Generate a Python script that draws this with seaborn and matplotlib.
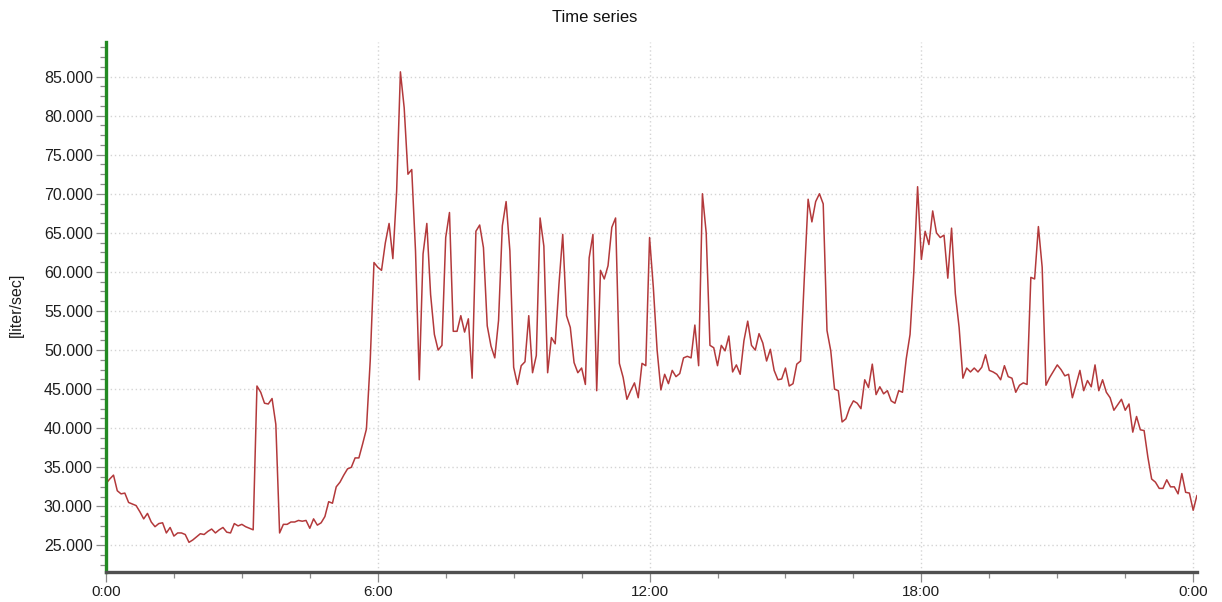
import numpy as np
import pandas as pd
import matplotlib
matplotlib.use("Agg")
import matplotlib.pyplot as plt
from matplotlib.ticker import MultipleLocator, FixedLocator, FuncFormatter
import seaborn as sns

# ---- data (5-minute samples starting 0:00) ----
sample_minutes = 5
flow = [
    32.9, 33.5, 34.0, 32.0, 31.6, 31.7, 30.5, 30.3, 30.1, 29.3,
    28.4, 29.1, 28.0, 27.4, 27.8, 27.9, 26.6, 27.3, 26.2, 26.6,
    26.6, 26.4, 25.4, 25.7, 26.1, 26.5, 26.4, 26.8, 27.1, 26.6,
    27.0, 27.3, 26.7, 26.6, 27.8, 27.5, 27.7, 27.4, 27.2, 27.0,
    45.4, 44.6, 43.2, 43.1, 43.8, 40.5, 26.6, 27.7, 27.7, 28.0,
    28.0, 28.2, 28.1, 28.2, 27.2, 28.4, 27.6, 27.9, 28.7, 30.6,
    30.4, 32.5, 33.1, 34.0, 34.8, 35.0, 36.2, 36.2, 38.0, 39.9,
    48.6, 61.2, 60.6, 60.2, 63.7, 66.2, 61.7, 70.3, 85.6, 81.0,
    72.5, 73.1, 62.7, 46.2, 62.3, 66.2, 57.1, 52.0, 50.0, 50.6,
    64.4, 67.6, 52.4, 52.4, 54.4, 52.3, 54.0, 46.4, 65.2, 66.0,
    63.1, 53.1, 50.5, 49.0, 53.8, 65.9, 69.0, 62.7, 47.8, 45.6,
    48.0, 48.5, 54.4, 47.1, 49.3, 66.9, 63.3, 47.1, 51.6, 50.8,
    58.4, 64.8, 54.4, 52.9, 48.4, 47.1, 47.7, 45.6, 61.8, 64.8,
    44.8, 60.2, 59.1, 60.8, 65.7, 66.9, 48.3, 46.5, 43.7, 44.8,
    45.8, 43.9, 48.3, 48.0, 64.4, 58.0, 50.0, 44.9, 46.9, 45.7,
    47.4, 46.6, 47.0, 49.0, 49.2, 49.0, 53.2, 48.0, 70.0, 65.0,
    50.6, 50.3, 48.0, 50.6, 49.9, 51.8, 47.2, 48.1, 46.9, 51.2,
    53.7, 50.6, 50.0, 52.1, 50.9, 48.6, 50.1, 47.4, 46.2, 46.3,
    47.7, 45.4, 45.7, 48.2, 48.6, 59.3, 69.3, 66.4, 69.0, 70.0,
    68.7, 52.5, 49.9, 45.0, 44.8, 40.8, 41.2, 42.6, 43.5, 43.2,
    42.5, 46.2, 45.2, 48.2, 44.3, 45.3, 44.4, 44.8, 43.5, 43.2,
    44.8, 44.6, 48.9, 52.0, 60.0, 70.9, 61.6, 65.2, 63.5, 67.8,
    65.0, 64.4, 64.7, 59.2, 65.6, 57.2, 52.9, 46.4, 47.7, 47.2,
    47.7, 47.2, 47.8, 49.4, 47.4, 47.2, 46.9, 46.2, 48.0, 46.6,
    46.4, 44.6, 45.5, 45.8, 45.6, 59.3, 59.1, 65.8, 60.6, 45.5,
    46.5, 47.3, 48.1, 47.5, 46.7, 46.9, 43.9, 45.6, 47.4, 44.8,
    46.1, 45.3, 48.1, 44.8, 46.2, 44.6, 43.9, 42.3, 43.0, 43.7,
    42.3, 43.1, 39.5, 41.5, 39.8, 39.7, 36.3, 33.5, 33.1, 32.3,
    32.3, 33.4, 32.5, 32.5, 31.6, 34.2, 31.8, 31.7, 29.5, 31.4,
]
hours = np.arange(len(flow)) * sample_minutes / 60.0

x_ticks = [0, 6, 12, 18, 24]
x_tick_labels = ["0:00", "6:00", "12:00", "18:00", "0:00"]
y_ticks = [25, 30, 35, 40, 45, 50, 55, 60, 65, 70, 75, 80, 85]

title = "Time series"
y_label = "[liter/sec]"

df = pd.DataFrame({"hour": hours, "flow": flow})

# ---- style ----
sns.set_style("white")
plt.rcParams["font.family"] = ["Liberation Sans", "DejaVu Sans"]

fig = plt.figure(figsize=(12.22, 6.02), dpi=100)
ax = fig.add_axes([0.0867, 0.0498, 0.9795 - 0.0867, 0.930 - 0.0498])

sns.lineplot(data=df, x="hour", y="flow", ax=ax, color="#b3393b",
             linewidth=1.1, legend=False)

ax.set_xlim(0, 24 + 5 / 60)
ax.set_ylim(21.6, 89.4)

ax.xaxis.set_major_locator(FixedLocator(x_ticks))
ax.set_xticklabels(x_tick_labels)
ax.xaxis.set_minor_locator(MultipleLocator(1.5))
ax.yaxis.set_major_locator(FixedLocator(y_ticks))
ax.yaxis.set_major_formatter(FuncFormatter(lambda v, p: f"{v:.3f}"))
ax.yaxis.set_minor_locator(MultipleLocator(1.25))

ax.grid(True, which="major", color="#d4d4d4", linestyle=(0, (1, 2)),
        linewidth=1.0)
ax.set_axisbelow(True)

for s in ["top", "right"]:
    ax.spines[s].set_visible(False)
ax.spines["left"].set_color("#238a23")
ax.spines["left"].set_linewidth(2.4)
ax.spines["bottom"].set_color("#505050")
ax.spines["bottom"].set_linewidth(2.4)

ax.tick_params(axis="both", which="major", direction="out", length=7,
               width=0.9, color="#8a8a8a", labelcolor="#1e1e1e", pad=2.5)
ax.tick_params(axis="both", which="minor", direction="out", length=4,
               width=0.9, color="#8a8a8a")
ax.tick_params(axis="x", which="major", labelsize=11)
ax.tick_params(axis="y", which="major", labelsize=11.5)
ax.tick_params(axis="x", which="both", bottom=True)
ax.tick_params(axis="y", which="both", left=True)

ax.set_xlabel("")
ax.set_ylabel("")
fig.text(16 / 1222, 1 - 305 / 602, y_label, rotation=90, ha="center",
         va="center", fontsize=11.5, color="#1e1e1e")

fig.text(595 / 1222, 1 - 18 / 602, title, ha="center", va="center",
         fontsize=12, color="#111111")

fig.savefig("out.png", dpi=100)
